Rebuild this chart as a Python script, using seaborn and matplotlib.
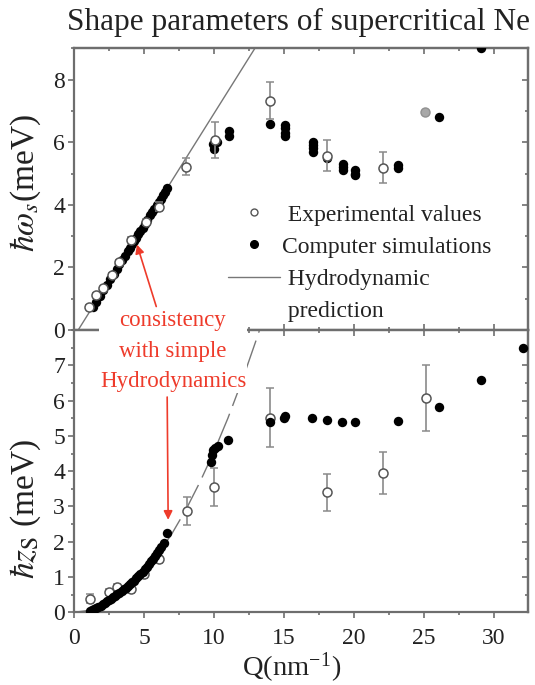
import matplotlib
matplotlib.use("Agg")
import matplotlib.pyplot as plt
import seaborn as sns
import pandas as pd
from matplotlib.lines import Line2D
from matplotlib.ticker import MultipleLocator

# ---------------- data ----------------
# top panel: hbar*omega_s (meV)
exp_w_q = [1.10, 1.55, 2.10, 2.69, 3.24, 4.07, 5.14, 6.10, 8.00, 10.07, 14.03, 18.06, 22.06]
exp_w = [0.75, 1.12, 1.33, 1.76, 2.18, 2.88, 3.46, 3.94, 5.22, 6.07, 7.33, 5.57, 5.19]
exp_w_err = [0.05, 0.05, 0.05, 0.05, 0.05, 0.08, 0.10, 0.15, 0.27, 0.58, 0.60, 0.50, 0.50]
gray_w_q = [25.1]
gray_w = [6.96]

sim_w_q = [1.35, 1.6, 1.85, 2.1, 2.35, 2.6, 2.85, 3.05, 3.25, 3.45, 3.65, 3.85, 4.0, 4.15,
           4.3, 4.45, 4.6, 4.75, 4.9, 5.05, 5.25, 5.45, 5.6, 5.75, 5.9, 6.05, 6.2, 6.35, 6.5, 6.62,
           9.9, 10.0, 10.2, 11.1, 11.1, 14.0, 15.1, 15.1, 15.1, 15.1, 17.1, 17.1, 17.1, 17.1,
           18.06, 19.2, 19.2, 19.2, 20.07, 20.07, 20.07, 23.14, 23.14, 26.1, 29.1]
sim_w = [0.73, 0.90, 1.08, 1.27, 1.45, 1.62, 1.80, 1.95, 2.10, 2.24, 2.38, 2.52, 2.62, 2.75,
         2.85, 2.95, 3.06, 3.17, 3.27, 3.38, 3.52, 3.67, 3.77, 3.88, 3.98, 4.09, 4.20, 4.30, 4.42, 4.55,
         5.94, 5.78, 6.00, 6.37, 6.21, 6.58, 6.55, 6.45, 6.30, 6.20, 6.00, 5.90, 5.80, 5.70,
         5.51, 5.30, 5.20, 5.10, 5.10, 5.00, 4.95, 5.28, 5.18, 6.82, 9.00]

hydro_w_q = [0.3, 13.0]
hydro_w = [0.0, 9.05]

# bottom panel: hbar*z_s (meV)
exp_z_q = [1.15, 2.5, 3.1, 4.05, 5.0, 6.05, 8.05, 10.0, 14.03, 18.06, 22.06, 25.13]
exp_z = [0.39, 0.57, 0.71, 0.66, 1.08, 1.50, 2.87, 3.55, 5.52, 3.40, 3.95, 6.07]
exp_z_err = [0.14, 0.08, 0.08, 0.10, 0.10, 0.10, 0.41, 0.55, 0.83, 0.52, 0.60, 0.93]

sim_z_q = [1.15, 1.3, 1.45, 1.6, 1.75, 1.9, 2.05, 2.2, 2.35, 2.5, 2.65, 2.8, 2.95, 3.1, 3.25,
           3.4, 3.55, 3.7, 3.85, 4.0, 4.15, 4.3, 4.45, 4.6, 4.75, 4.9, 5.05, 5.2, 5.35, 5.5,
           5.65, 5.8, 5.95, 6.1, 6.25, 6.4, 6.62,
           9.8, 9.85, 9.9, 10.1, 10.3, 11.0, 14.03, 15.0, 15.1, 17.03, 18.06, 19.19, 20.07,
           23.14, 26.1, 29.1, 32.1]
sim_z = [0.03, 0.06, 0.09, 0.12, 0.16, 0.19, 0.23, 0.27, 0.31, 0.35, 0.39, 0.43, 0.47, 0.51, 0.55,
         0.60, 0.65, 0.70, 0.75, 0.80, 0.85, 0.90, 0.96, 1.02, 1.08, 1.15, 1.22, 1.29, 1.36, 1.44,
         1.52, 1.60, 1.68, 1.77, 1.86, 1.95, 2.25,
         4.25, 4.45, 4.60, 4.66, 4.72, 4.87, 5.40, 5.50, 5.55, 5.51, 5.46, 5.40, 5.38,
         5.43, 5.81, 6.58, 7.48]

hydro_z_q = [0.0, 1.0, 2.0, 3.0, 4.0, 5.0, 6.0, 7.0, 8.0, 9.0, 10.0, 11.0, 12.0, 13.0, 13.6]
hydro_z = [0.0, 0.05, 0.18, 0.41, 0.73, 1.14, 1.64, 2.23, 2.91, 3.69, 4.55, 5.50, 6.55, 7.69, 8.4]

x_ticks = [0, 5, 10, 15, 20, 25, 30]
legend_labels = [" Experimental values", "Computer simulations", " Hydrodynamic", " prediction"]
title = "Shape parameters of supercritical Ne"
note = "consistency\nwith simple\nHydrodynamics"

# ---------------- style ----------------
sns.set_theme(style="ticks")
plt.rcParams["font.family"] = ["Liberation Serif", "DejaVu Serif"]
plt.rcParams["mathtext.fontset"] = "stix"
plt.rcParams["axes.unicode_minus"] = False

SP = "#6e6e6e"
TXT = "#222222"
RED = "#ee3b2b"
EB = "#8a8a8a"

W, H = 535, 685
fig = plt.figure(figsize=(W / 100, H / 100), dpi=100)
L, R = 74, 528
ax1 = fig.add_axes([L / W, 1 - 330 / H, (R - L) / W, (330 - 48.3) / H])
ax2 = fig.add_axes([L / W, 1 - 612.3 / H, (R - L) / W, (612.3 - 330) / H])

df_w = pd.DataFrame({"Q": sim_w_q, "w": sim_w})
df_z = pd.DataFrame({"Q": sim_z_q, "z": sim_z})
df_hw = pd.DataFrame({"Q": hydro_w_q, "w": hydro_w})
df_hz = pd.DataFrame({"Q": hydro_z_q, "z": hydro_z})

# top panel
sns.lineplot(data=df_hw, x="Q", y="w", ax=ax1, color="#777777", lw=1.0, sort=False, zorder=1)
sns.scatterplot(data=df_w, x="Q", y="w", ax=ax1, color="black", s=46, linewidth=0, zorder=3)
ax1.errorbar(exp_w_q, exp_w, yerr=exp_w_err, fmt="o", ms=6.5, mfc="white", mec="#555555",
             mew=1.1, ecolor=EB, elinewidth=1.2, capsize=3, capthick=1.2, zorder=4)
ax1.plot(gray_w_q, gray_w, "o", ms=6.5, mfc="#a8a8a8", mec="#909090", mew=1.0, zorder=4)

# bottom panel
sns.lineplot(data=df_hz, x="Q", y="z", ax=ax2, color="#777777", lw=1.0, sort=False,
             zorder=1, linestyle=(0, (22, 6)))
ax2.errorbar(exp_z_q, exp_z, yerr=exp_z_err, fmt="o", ms=6.5, mfc="white", mec="#555555",
             mew=1.1, ecolor=EB, elinewidth=1.2, capsize=3, capthick=1.2, zorder=2)
sns.scatterplot(data=df_z, x="Q", y="z", ax=ax2, color="black", s=46, linewidth=0, zorder=3)

for ax in (ax1, ax2):
    ax.set_xlim(0, 32.45)
    ax.set_xticks(x_ticks)
    ax.xaxis.set_minor_locator(MultipleLocator(2.5))
    for s in ax.spines.values():
        s.set_color(SP)
        s.set_linewidth(1.6)
        s.set_visible(True)
    ax.set_xlabel("")
    ax.set_ylabel("")
    ax.tick_params(which="both", color=SP, width=1.2, labelcolor=TXT, labelsize=17)
    ax.tick_params(which="major", length=4.5)
    ax.tick_params(which="minor", length=2.5)
    ax.tick_params(axis="y", which="both", direction="out", left=True, right=False, pad=2)
    ax.tick_params(axis="x", which="both", top=False)
    sy = ax.secondary_yaxis("right")
    sx = ax.secondary_xaxis("top")
    for sec in (sy, sx):
        sec.tick_params(which="both", direction="in", color=SP, width=1.2,
                        labelright=False, labeltop=False)
        sec.tick_params(which="major", length=4.5)
        sec.tick_params(which="minor", length=2.5)
        for s in sec.spines.values():
            s.set_color(SP)
            s.set_linewidth(1.6)
    sx.set_xticks(x_ticks)
    sx.xaxis.set_minor_locator(MultipleLocator(2.5))
    ax._sy = sy

ax1.set_ylim(0, 9)
ax1.set_yticks([0, 2, 4, 6, 8])
ax1.yaxis.set_minor_locator(MultipleLocator(1))
ax1._sy.set_yticks([0, 2, 4, 6, 8])
ax1._sy.yaxis.set_minor_locator(MultipleLocator(1))
ax1.tick_params(axis="x", which="both", direction="in", labelbottom=False)

ax2.set_ylim(0, 8)
ax2.set_yticks([0, 1, 2, 3, 4, 5, 6, 7])
ax2.yaxis.set_minor_locator(MultipleLocator(0.5))
ax2._sy.set_yticks([0, 1, 2, 3, 4, 5, 6, 7])
ax2._sy.yaxis.set_minor_locator(MultipleLocator(0.5))
ax2.tick_params(axis="x", which="both", direction="out", pad=7)

ax1.set_ylabel(r"$\hbar\omega_{s}$(meV)", fontsize=24, color=TXT)
ax1.yaxis.set_label_coords(-0.068, 0.52)
ax2.set_ylabel(r"$\hbar z_{\mathrm{S}}$ (meV)", fontsize=24, color=TXT)
ax2.yaxis.set_label_coords(-0.068, 0.366)
ax2.set_xlabel(r"Q(nm$^{\mathregular{-1}}$)", fontsize=20.5, color=TXT)
ax2.xaxis.set_label_coords(0.48, -0.135)

# legend
handles = [
    Line2D([], [], marker="o", ls="none", ms=5, mfc="white", mec="#555555", mew=1.0),
    Line2D([], [], marker="o", ls="none", ms=5.5, mfc="black", mec="black"),
    Line2D([], [], color="#777777", lw=1.0),
    Line2D([], [], ls="none"),
]
fig.legend(handles, legend_labels, loc="upper left", bbox_to_anchor=(228 / W, 1 - 204 / H),
           bbox_transform=fig.transFigure, frameon=False, fontsize=17, handlelength=2.2,
           handletextpad=0.1, labelspacing=0.45, borderpad=0, borderaxespad=0,
           labelcolor=TXT)

# title
fig.text(67 / W, 1 - 30 / H, title, fontsize=22.5, color=TXT, ha="left", va="baseline")

# red annotation
fig.text(173 / W, 1 - 351 / H, note, fontsize=16.5, color=RED, ha="center", va="center",
         multialignment="center", linespacing=1.6, zorder=10,
         bbox=dict(facecolor="white", edgecolor="none", pad=0.5))
arrow = dict(arrowstyle="-|>", color=RED, lw=1.2, mutation_scale=13, shrinkA=0, shrinkB=0)
ax1.annotate("", xy=(4.5, 2.73), xytext=(5.88, 0.75), arrowprops=arrow, zorder=11)
ax2.annotate("", xy=(6.73, 2.62), xytext=(6.66, 6.1), arrowprops=arrow, zorder=11)

fig.savefig("out.png", dpi=100)
